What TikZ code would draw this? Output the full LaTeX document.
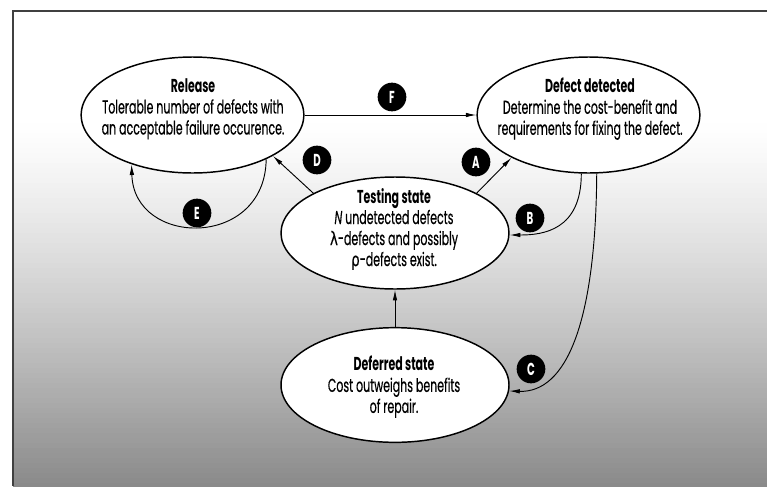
\documentclass[tikz,border=0pt]{standalone}
\usepackage{fontspec}
\setmainfont{Poppins}[FakeStretch=0.59, UprightFeatures={FakeBold=0.4}, ItalicFeatures={FakeBold=0.4}]
\newfontfamily\grk{DejaVu Sans}[FakeStretch=0.72, FakeBold=0.3]
\usetikzlibrary{shapes.geometric,arrows.meta}
\tikzset{
  stateshape/.style={ellipse, draw, line width=1.1pt, fill=white, inner sep=0pt},
  txt/.style={align=center, inner sep=0pt, font=\fontsize{14}{15.75}\selectfont},
  lbl/.style={circle, fill=black, text=white, inner sep=0pt, minimum size=21.5pt,
              font=\bfseries\fontsize{13}{13}\selectfont},
  conn/.style={line width=0.7pt, -{Latex[length=8pt,width=3.4pt]}},
  frameline/.style={black!75, line width=0.8pt}
}
\begin{document}
\begin{tikzpicture}[x=0.75pt,y=-0.75pt]
\useasboundingbox (0,0) rectangle (767,486);
\fill[white] (0,0) rectangle (767,486);
\foreach \i in {0,...,73}{
  \pgfmathsetmacro{\pct}{46*(\i/73)^1.25}
  \fill[black!\pct] (13,{118+5*\i}) rectangle (767,{124+5*\i});
}
\draw[frameline] (13,486) -- (13,11) -- (767,11);

% states
\node[stateshape, minimum width=167pt, minimum height=87pt] (release) at (192.5,115) {};
\node[stateshape, minimum width=167pt, minimum height=87pt] (defect) at (588.5,115) {};
\node[stateshape, minimum width=171pt, minimum height=84pt] (testing) at (395,233) {};
\node[stateshape, minimum width=171pt, minimum height=86pt] (deferred) at (395,385) {};

\node[txt] (releaseT) at (193,109) {\textbf{Release}\\Tolerable number of defects with\\an acceptable failure occurence.};
\node[txt] (defectT) at (590,109) {\textbf{Defect detected}\\Determine the cost-benefit and\\requirements for fixing the defect.};
\node[txt] (testingT) at (394,229) {\textbf{Testing state}\\\textit{N} undetected defects\\{\grk λ}-defects and possibly\\{\grk ρ}-defects exist.};
\node[txt] (deferredT) at (394,387) {\textbf{Deferred state}\\Cost outweighs benefits\\of repair.};

% connectors
\draw[conn] (release.east) -- (defect.west);
\draw[conn] (testing.26) -- (defect.-151);
\draw[conn] (testing.154) -- (release.-27);
\draw[conn] (release.-31) .. controls +(-1,90) and +(2,83) .. (release.-141);
\draw[conn] (defect.-97) .. controls +(0,57) and +(33,0) .. (testing.-1);
\draw[conn] (defect.-82) .. controls +(-1,150) and +(57,2) .. (deferred.-3);
\draw[conn] (deferred.north) -- (testing.south);

% labels
\node[lbl] (F) at (392,97) {F};
\node[lbl] (A) at (476,162) {A};
\node[lbl] (D) at (317,160) {D};
\node[lbl] (E) at (197,213) {E};
\node[lbl] (B) at (530,218) {B};
\node[lbl] (C) at (531,369) {C};
\end{tikzpicture}
\end{document}
